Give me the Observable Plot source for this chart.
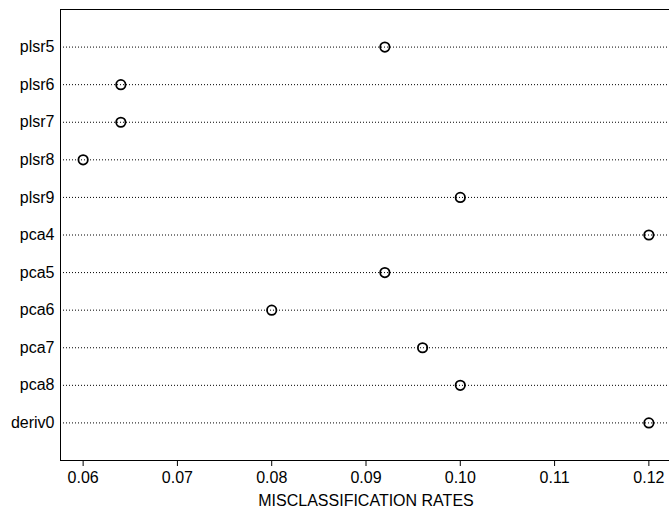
<!DOCTYPE html>
<html>
<head>
<meta charset="utf-8">
<script src="https://cdn.jsdelivr.net/npm/d3@7"></script>
<script src="https://cdn.jsdelivr.net/npm/@observablehq/plot@0.6"></script>
<style>
  html, body { margin: 0; padding: 0; background: #fff; }
  #chart svg { display: block; }
</style>
</head>
<body>
<div id="chart"></div>
<script>
const models = ["plsr5", "plsr6", "plsr7", "plsr8", "plsr9", "pca4", "pca5", "pca6", "pca7", "pca8", "deriv0"];
const rates = [0.092, 0.064, 0.064, 0.060, 0.100, 0.120, 0.092, 0.080, 0.096, 0.100, 0.120];
const xTicks = [0.06, 0.07, 0.08, 0.09, 0.10, 0.11, 0.12];
const xLabel = "MISCLASSIFICATION RATES";

const data = models.map((m, i) => ({model: m, rate: rates[i]}));

const chart = Plot.plot({
  width: 669,
  height: 511,
  marginLeft: 60,
  marginRight: -2,
  marginTop: 9,
  marginBottom: 51,
  style: {fontFamily: "'Liberation Sans', Arial, sans-serif", fontSize: "16px", color: "#000", background: "#fff"},
  x: {
    domain: [0.0576, 0.1224],
    ticks: xTicks,
    tickFormat: d3.format(".2f"),
    label: null
  },
  y: {
    type: "point",
    domain: models,
    padding: 1,
    round: false,
    label: null
  },
  marks: [
    Plot.ruleY(data, {y: "model", stroke: "#000", strokeWidth: 1, strokeDasharray: "1,2"}),
    Plot.frame({stroke: "#000", strokeWidth: 1}),
    Plot.axisX({ticks: xTicks, tickFormat: d3.format(".2f"), tickSize: 6, tickPadding: 5, fontSize: 16, label: null}),
    Plot.axisY({tickSize: 0, tickPadding: 6, fontSize: 16, label: null}),
    Plot.text([xLabel], {frameAnchor: "bottom", dy: 45, fontSize: 16, text: d => d}),
    Plot.dot(data, {x: "rate", y: "model", r: 4.7, stroke: "#000", strokeWidth: 1.8, fill: "none"})
  ]
});
document.getElementById("chart").appendChild(chart);
</script>
</body>
</html>
